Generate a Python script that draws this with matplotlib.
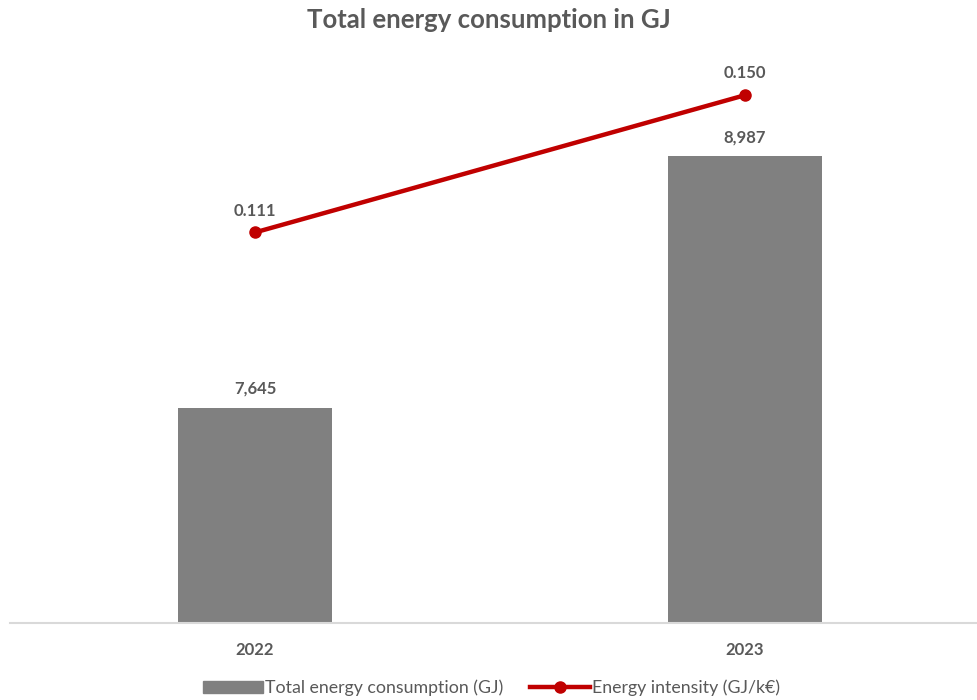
import matplotlib.pyplot as plt
from matplotlib.lines import Line2D
from matplotlib.patches import Patch

years = ["2022", "2023"]
consumption_gj = [7645, 8987]
intensity = [0.111, 0.150]

plt.rcParams['font.family'] = ['Lato', 'DejaVu Sans']
text_color = "#595959"
bar_color = "#808080"
line_color = "#C00000"

fig = plt.figure(figsize=(9.77, 7), dpi=100)
ax = fig.add_axes([10 / 977, 77 / 700, 980 / 977, 563 / 700])
x = list(range(len(years)))

bars = ax.bar(x, consumption_gj, width=0.316, color=bar_color, zorder=2)
ax.set_xlim(-0.5, 1.5)
ax.set_ylim(6500, 9500)
for spine in ["top", "right", "left"]:
    ax.spines[spine].set_visible(False)
ax.spines["bottom"].set_color("#D9D9D9")
ax.spines["bottom"].set_linewidth(1.5)
ax.set_yticks([])
ax.set_xticks(x)
ax.set_xticklabels(years, fontsize=12, fontweight="bold", color=text_color)
ax.tick_params(axis="x", length=0, pad=14)

for xi, v in zip(x, consumption_gj):
    ax.annotate(f"{v:,}", (xi, v), xytext=(0, 8), textcoords="offset points",
                ha="center", va="bottom", fontsize=12, fontweight="bold", color=text_color)

# intensity on its own hidden axis
ax2 = ax.twinx()
ax2.set_ylim(0, 0.16)
ax2.set_axis_off()
ax2.plot(x, intensity, color=line_color, linewidth=3.2, marker="o", markersize=8, zorder=3)
for xi, v in zip(x, intensity):
    ax2.annotate(f"{v:.3f}", (xi, v), xytext=(0, 10), textcoords="offset points",
                 ha="center", va="bottom", fontsize=12, fontweight="bold", color=text_color)

fig.text(0.5, 0.972, "Total energy consumption in GJ", ha="center", va="center",
         fontsize=18.5, fontweight="bold", color=text_color)

handles = [Patch(color=bar_color),
           Line2D([0], [0], color=line_color, linewidth=3.2, marker="o", markersize=8)]
labels = ["Total energy consumption (GJ)", "Energy intensity (GJ/k€)"]
fig.legend(handles, labels, loc="center", bbox_to_anchor=(0.503, 0.017), ncol=2,
           frameon=False, fontsize=12.8, labelcolor=text_color, handlelength=3.4,
           handletextpad=0.1, columnspacing=1.5)

fig.savefig("out.png", dpi=100)
